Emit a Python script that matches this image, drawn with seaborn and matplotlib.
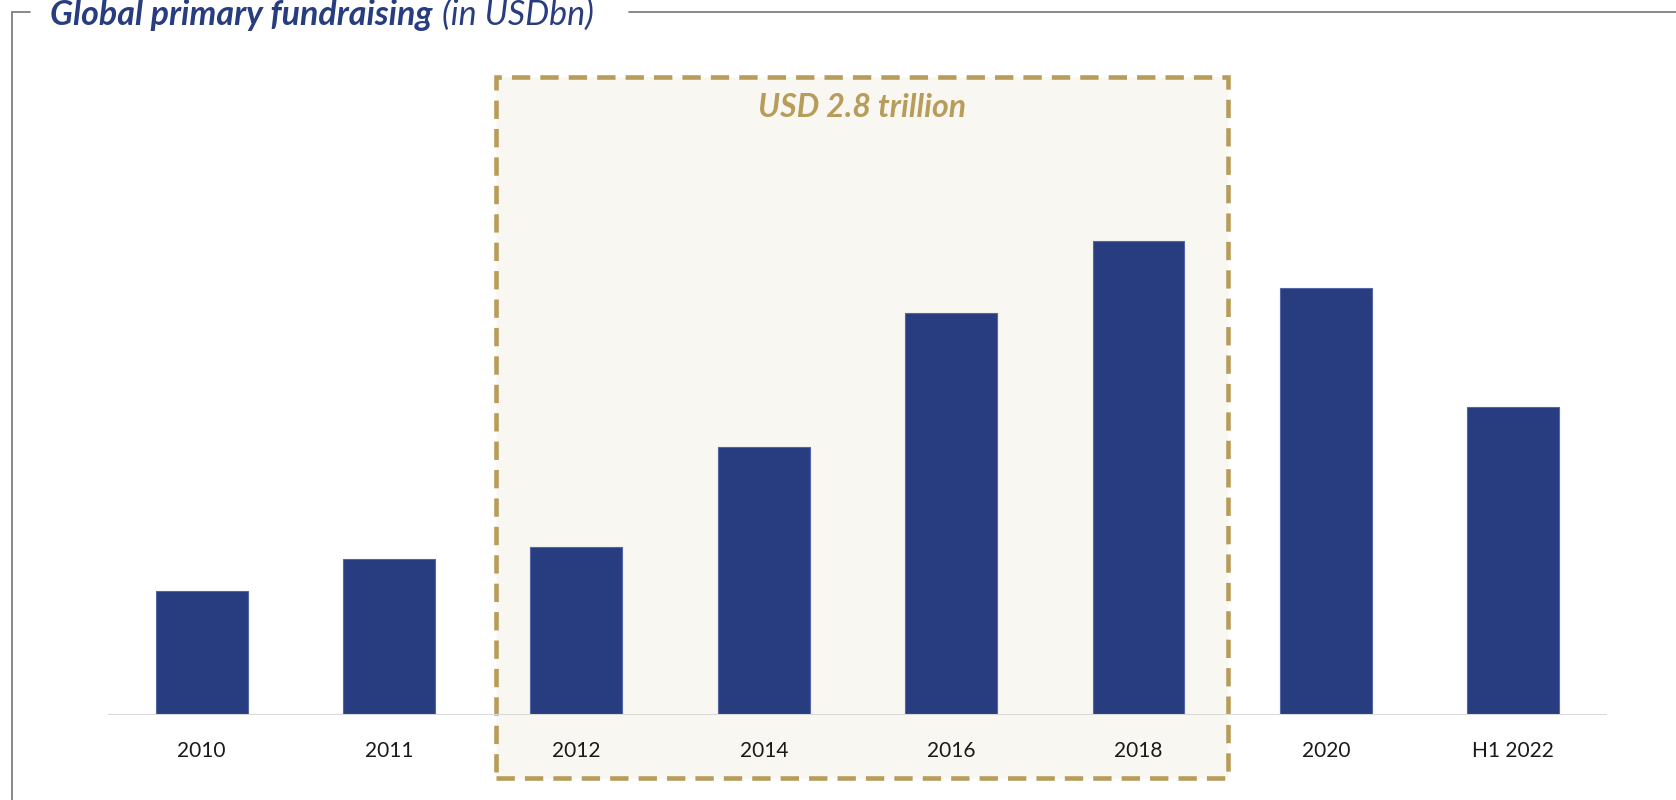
import matplotlib
matplotlib.use("Agg")
import matplotlib.pyplot as plt
import matplotlib.transforms as mtransforms
from matplotlib.patches import Rectangle
from matplotlib.lines import Line2D
import seaborn as sns

# Data (USD bn)
years = ["2010", "2011", "2012", "2014", "2016", "2018", "2020", "H1 2022"]
fundraising = [241, 303, 326, 521, 781, 920, 829, 598]
highlight_span = ("2012", "2018")
highlight_label = "USD 2.8 trillion"

navy = "#283C80"
gold = "#B89D5A"
box_fill = "#F8F7F2"

sns.set_style("white")
plt.rcParams["font.family"] = ["Lato", "DejaVu Sans"]

fig = plt.figure(figsize=(16.76, 8), dpi=100)
ax = fig.add_axes([0.0644, 0.10625, 0.8944, 0.7975])

sns.barplot(x=years, y=fundraising, color=navy, saturation=1, width=0.49,
            edgecolor="#5565A5", linewidth=0.8, ax=ax, zorder=3)

ax.set_xlim(-0.5, len(years) - 0.5)
ax.set_ylim(0, 1238)
ax.set_yticks([])
ax.set_xlabel("")
ax.set_ylabel("")
sns.despine(ax=ax, left=True, bottom=True)
ax.tick_params(axis="x", length=0, pad=19, labelsize=15, labelcolor="#1a1a1a")
ax.axhline(0, color="#D9D9D9", lw=1.5, zorder=4)

# dashed highlight box around 2012-2018
i0 = years.index(highlight_span[0])
i1 = years.index(highlight_span[1])
x0, x1 = i0 - 0.43, i1 + 0.48
trans = mtransforms.blended_transform_factory(ax.transData, ax.transAxes)
box = Rectangle((x0, -0.099), x1 - x0, 1.099, transform=trans, clip_on=False,
                facecolor=box_fill, edgecolor=gold, lw=3.3,
                linestyle=(0, (4, 2.2)), zorder=0.2)
ax.add_patch(box)
ax.text((x0 + x1) / 2, 0.952, highlight_label, transform=trans, ha="center",
        va="center", fontsize=23, fontweight="bold", fontstyle="italic",
        color=gold, zorder=5)

# title and frame
t1 = fig.text(50 / 1676, 1 - 25 / 800, "Global primary fundraising", fontsize=24.5,
              fontweight="bold", fontstyle="italic", color=navy, va="baseline")
fig.canvas.draw()
ax.annotate("(in USDbn)", xy=(1, 0), xycoords=t1, xytext=(7, 0),
            textcoords="offset points", va="bottom", ha="left", fontsize=24.5,
            fontstyle="italic", color=navy, annotation_clip=False)

frame_y = 1 - 12 / 800
fig.add_artist(Line2D([12 / 1676, 30 / 1676], [frame_y, frame_y], color="#808080", lw=1.3))
fig.add_artist(Line2D([12 / 1676, 12 / 1676], [frame_y, 0], color="#808080", lw=1.3))
fig.add_artist(Line2D([629 / 1676, 1], [frame_y, frame_y], color="#808080", lw=1.3))

fig.savefig("out.png", dpi=100)
